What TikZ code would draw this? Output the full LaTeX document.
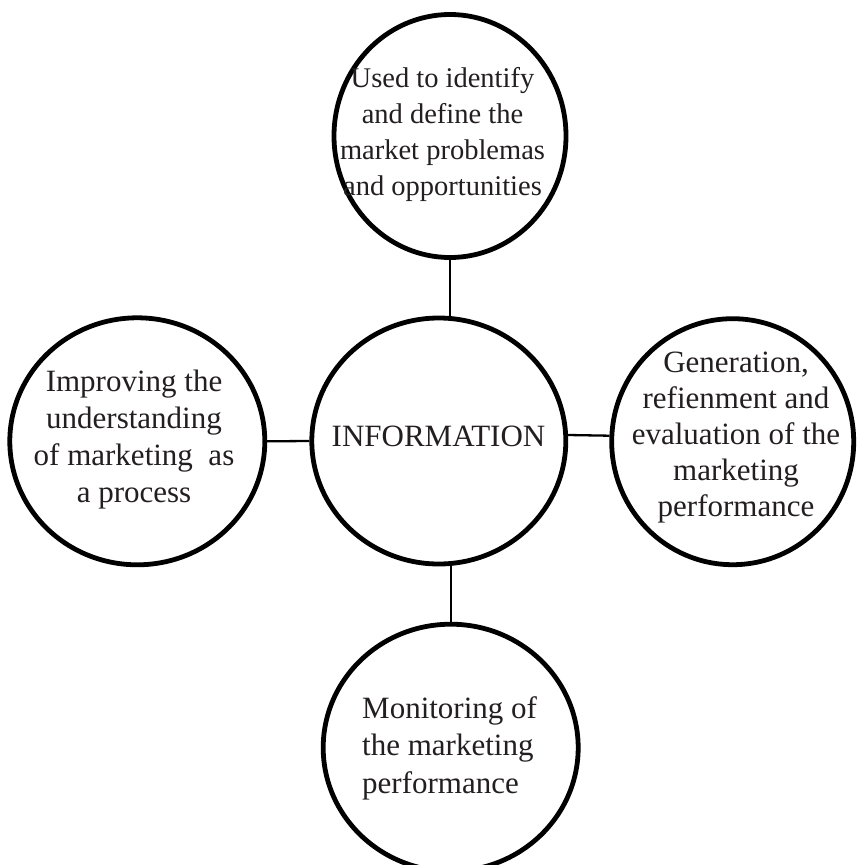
\documentclass[tikz,border=0pt]{standalone}
\usepackage{fontspec}
\setmainfont{Liberation Serif}
\usetikzlibrary{shapes.geometric}
\definecolor{inkgray}{HTML}{231F20}
\tikzset{
  bubble/.style={ellipse, draw=black, line width=4.8pt, fill=white, inner sep=0pt},
  link/.style={draw=black, line width=2.3pt},
  caption/.style={inner sep=0pt, text=inkgray, align=center},
  bigfont/.style={font=\fontsize{31}{37}\selectfont},
}
\begin{document}
\begin{tikzpicture}[x=1pt, y=-1pt]
  \useasboundingbox (0,0) rectangle (857,865);
  \clip (0,0) rectangle (857,865);
  \fill[white] (0,0) rectangle (857,865);

  % outer bubbles
  \node[bubble, minimum width=232pt, minimum height=243pt] (top) at (450,136) {};
  \node[bubble, minimum width=255pt, minimum height=247pt] (left) at (137.3,441.3) {};
  \node[bubble, minimum width=254pt, minimum height=246pt] (info) at (438.8,441) {};
  \node[bubble, minimum width=242pt, minimum height=246pt] (right) at (732.7,441.7) {};
  \node[bubble, minimum width=255pt, minimum height=247pt] (bottom) at (450.7,747.7) {};

  % spokes joining the central bubble to the others
  \draw[link] (top.south) -- (top.south |- info.north);
  \draw[link] (left.east) -- (info.west);
  \draw[link] ([yshift=6pt]info.east) -- ([yshift=6pt]right.west);
  \draw[link] (bottom.north |- info.south) -- (bottom.north);

  % captions
  \node[caption, font=\fontsize{28.5}{36}\selectfont] (toptext) at (442.5,134.3)
    {Used to identify\\and define the\\market problemas\\and opportunities};
  \node[caption, bigfont] (lefttext) at (134,439.8)
    {Improving the\\understanding\\of marketing~ as\\a process};
  \node[caption, bigfont] (infotext) at (438.5,436.8) {INFORMATION};
  \node[caption, font=\fontsize{31}{36}\selectfont] (righttext) at (736,437.9)
    {Generation,\\refienment and\\evaluation of the\\marketing\\performance};
  \node[caption, align=left, anchor=west, font=\fontsize{31}{37.5}\selectfont] (bottomtext) at (362,748.3)
    {Monitoring of\\the marketing\\performance};
\end{tikzpicture}
\end{document}
